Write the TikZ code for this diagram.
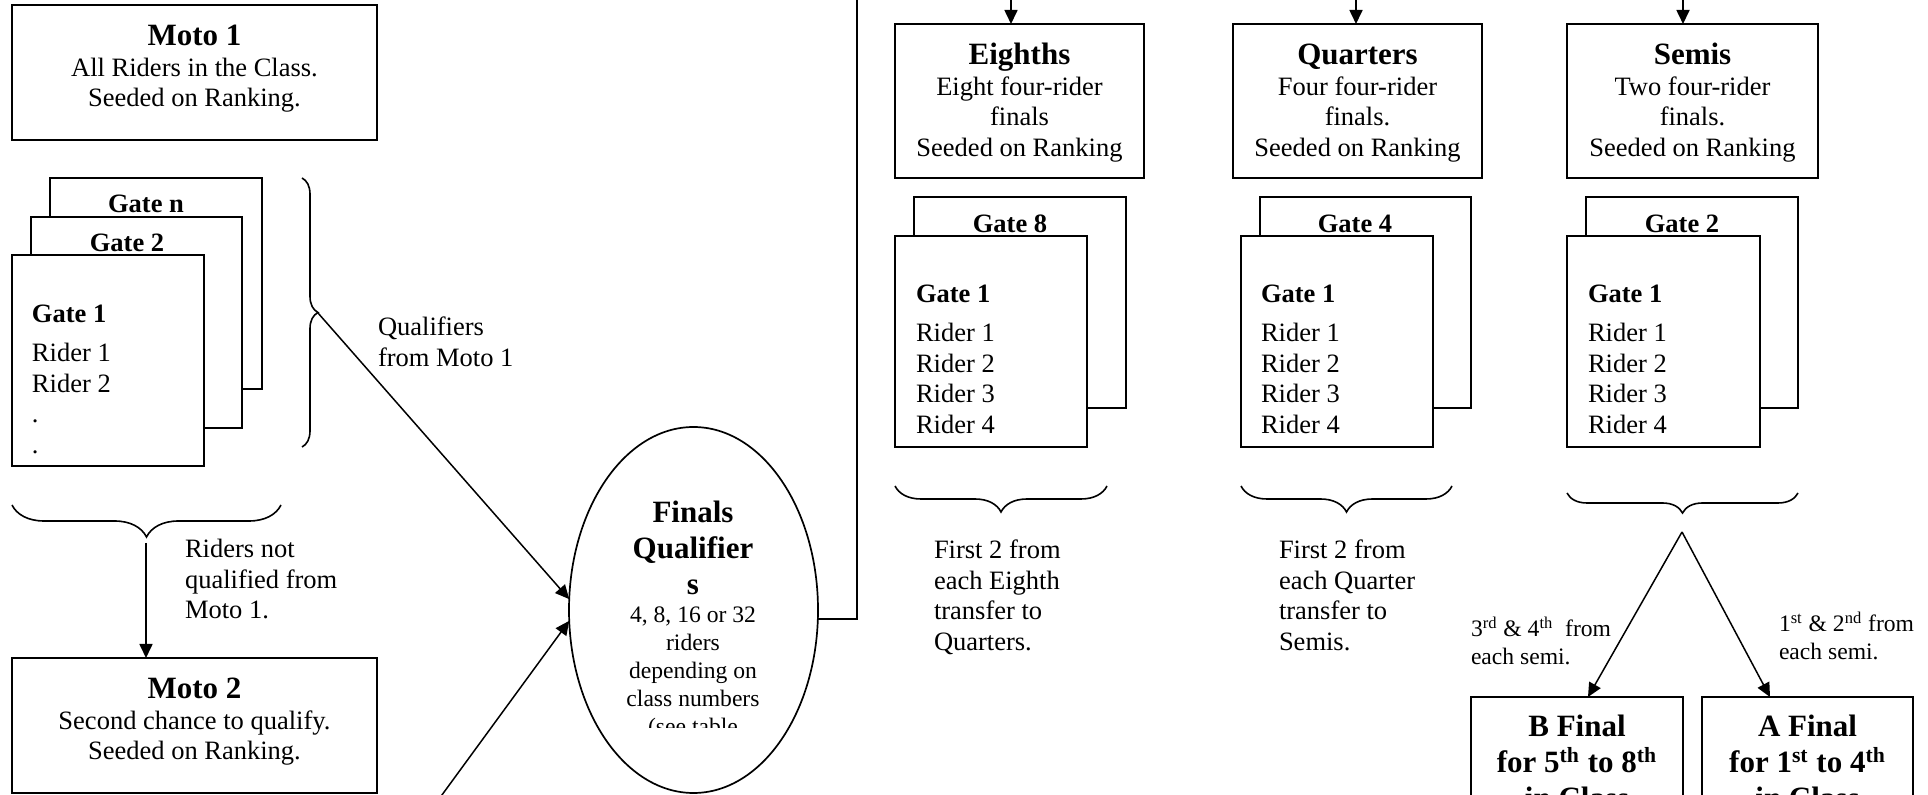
\documentclass[tikz,border=0pt]{standalone}
\usepackage{fontspec}
\setmainfont{Liberation Serif}
\usetikzlibrary{shapes.geometric,decorations.pathreplacing,arrows.meta,calc}
\newcommand\ttl{\fontsize{15.5}{18}\selectfont\bfseries}
\newcommand\bdy{\fontsize{13.25}{15.25}\selectfont}
\newcommand\sml{\fontsize{11.8}{14}\selectfont}
\newcommand\cblk[1]{\vtop{\halign{\hfil##\hfil\cr#1\crcr}}}
\newcommand\lblk[1]{\vtop{\halign{##\hfil\cr#1\crcr}}}
\begin{document}
\begin{tikzpicture}[x=0.5pt,y=-0.5pt,
 box/.style={draw, line width=1pt, fill=white, rectangle, inner sep=0pt, outer sep=0pt, anchor=north west},
 txt/.style={inner sep=0pt, outer sep=0pt},
 arr/.style={line width=0.75pt, -{Triangle[length=7pt,width=6.5pt]}},
 brc/.style={line width=0.8pt, decorate, decoration={brace, amplitude=#1}},
 lne/.style={line width=0.85pt}]
\useasboundingbox (0,0) rectangle (1928,795);
\fill[white] (0,0) rectangle (1928,795);
\clip (0,0) rectangle (1928,795);

% ---------- left column ----------
\node[box, minimum width=182.5pt, minimum height=67.5pt] (moto1) at (12,5) {};
\node[txt, anchor=base] (moto1t) at (194.5,46) {\bdy\cblk{{\ttl Moto 1}\cr All Riders in the Class.\cr Seeded on Ranking.}};

\node[box, minimum width=106pt, minimum height=105.5pt] (gn) at (50,178) {};
\node[txt, anchor=base] (gnt) at (146,213) {\bdy\bfseries Gate n};
\node[box, minimum width=105.5pt, minimum height=105.5pt] (g2l) at (31,217) {};
\node[txt, anchor=base] (g2lt) at (127,252) {\bdy\bfseries Gate 2};
\node[box, minimum width=96pt, minimum height=105.5pt] (g1l) at (12,255) {};
\node[txt, anchor=base west] (g1lt) at (32,323) {\bdy\lblk{{\bfseries Gate 1}\cr\noalign{\vskip4.25pt}Rider 1\cr Rider 2\cr .\cr .}};

\draw[brc=8pt] (302,178) -- (302,447) coordinate[pos=0.5] (bmid);
\coordinate (b1tip) at (318,313);
\node[txt, anchor=base west] (q1t) at (378,336) {\bdy\lblk{Qualifiers\cr from Moto 1}};

\draw[brc=16pt] (281,505) -- (12,505);
\coordinate (b2tip) at (146,543);
\node[txt, anchor=base west] (rnq) at (185,558) {\bdy\lblk{Riders not\cr qualified from\cr Moto 1.}};

\node[box, minimum width=182.5pt, minimum height=67.5pt] (moto2) at (12,658) {};
\node[txt, anchor=base] (moto2t) at (194.5,699) {\bdy\cblk{{\ttl Moto 2}\cr Second chance to qualify.\cr Seeded on Ranking.}};

\draw[arr, lne] (b2tip) -- (b2tip |- moto2.north);

% ---------- finals qualifiers ----------
\node[draw, ellipse, line width=0.85pt, minimum width=124.5pt, minimum height=183pt, inner sep=0pt, outer sep=0pt] (fq) at (693.5,610) {};
\node[txt, anchor=base] (fqt) at (693,523) {\ttl\cblk{Finals\cr Qualifier\cr s}};
\begin{scope}
\clip (560,400) rectangle (830,728);
\node[txt, anchor=base] (fqs) at (693,623) {\sml\cblk{4, 8, 16 or 32\cr riders\cr depending on\cr class numbers\cr (see table}};
\end{scope}

\draw[arr] (b1tip) -- (fq.175);
\coordinate (m2src) at (420,825);
\draw[arr] (m2src) -- (fq.185);
\coordinate (topc) at (857,-20);
\draw[lne] (fq.-4.5) -| (topc);

% ---------- eighths ----------
\coordinate (te) at (1011,-20);
\node[box, minimum width=124.5pt, minimum height=77pt] (eighths) at (895,24) {};
\node[txt, anchor=base] (eighthst) at (1019.5,65) {\bdy\cblk{{\ttl Eighths}\cr Eight four-rider\cr finals\cr Seeded on Ranking}};
\draw[arr, lne] (te) -- (te |- eighths.north);
\node[box, minimum width=106pt, minimum height=105.5pt] (g8) at (914,197) {};
\node[txt, anchor=base] (g8t) at (1010,233) {\bdy\bfseries Gate 8};
\node[box, minimum width=96pt, minimum height=105.5pt] (g1e) at (895,236) {};
\node[txt, anchor=base west] (g1et) at (916,303) {\bdy\lblk{{\bfseries Gate 1}\cr\noalign{\vskip4.25pt}Rider 1\cr Rider 2\cr Rider 3\cr Rider 4}};
\draw[brc=13pt] (1107,486) -- (895,486);
\node[txt, anchor=base west] (fe) at (934,559) {\bdy\lblk{First 2 from\cr each Eighth\cr transfer to\cr Quarters.}};

% ---------- quarters ----------
\coordinate (tq) at (1356,-20);
\node[box, minimum width=124.5pt, minimum height=77pt] (quarters) at (1233,24) {};
\node[txt, anchor=base] (quarterst) at (1357.5,65) {\bdy\cblk{{\ttl Quarters}\cr Four four-rider\cr finals.\cr Seeded on Ranking}};
\draw[arr, lne] (tq) -- (tq |- quarters.north);
\node[box, minimum width=105.5pt, minimum height=105.5pt] (g4) at (1260,197) {};
\node[txt, anchor=base] (g4t) at (1355,233) {\bdy\bfseries Gate 4};
\node[box, minimum width=96pt, minimum height=105.5pt] (g1q) at (1241,236) {};
\node[txt, anchor=base west] (g1qt) at (1261,303) {\bdy\lblk{{\bfseries Gate 1}\cr\noalign{\vskip4.25pt}Rider 1\cr Rider 2\cr Rider 3\cr Rider 4}};
\draw[brc=13pt] (1452,486) -- (1241,486);
\node[txt, anchor=base west] (fqq) at (1279,559) {\bdy\lblk{First 2 from\cr each Quarter\cr transfer to\cr Semis.}};

% ---------- semis ----------
\coordinate (ts) at (1683,-20);
\node[box, minimum width=125.5pt, minimum height=77pt] (semis) at (1567,24) {};
\node[txt, anchor=base] (semist) at (1692.5,65) {\bdy\cblk{{\ttl Semis}\cr Two four-rider\cr finals.\cr Seeded on Ranking}};
\draw[arr, lne] (ts) -- (ts |- semis.north);
\node[box, minimum width=106pt, minimum height=105.5pt] (g2s) at (1586,197) {};
\node[txt, anchor=base] (g2st) at (1682,233) {\bdy\bfseries Gate 2};
\node[box, minimum width=96.5pt, minimum height=105.5pt] (g1s) at (1567,236) {};
\node[txt, anchor=base west] (g1st) at (1588,303) {\bdy\lblk{{\bfseries Gate 1}\cr\noalign{\vskip4.25pt}Rider 1\cr Rider 2\cr Rider 3\cr Rider 4}};
\draw[brc=10pt] (1798,493) -- (1567,493);
\coordinate (apex) at (1682,532);

% ---------- finals ----------
\node[box, minimum width=106pt, minimum height=80pt] (bfinal) at (1471,697) {};
\node[txt, anchor=base] (bfinalt) at (1577,737) {\ttl\cblk{B Final\cr for 5\textsuperscript{th} to 8\textsuperscript{th}\cr in Class}};
\node[box, minimum width=105.5pt, minimum height=80pt] (afinal) at (1702,697) {};
\node[txt, anchor=base] (afinalt) at (1807.5,737) {\ttl\cblk{A Final\cr for 1\textsuperscript{st} to 4\textsuperscript{th}\cr in Class}};

\draw[arr] (apex) -- ($(bfinal.north west)+(117,0)$);
\draw[arr] (apex) -- ($(afinal.north west)+(68,0)$);
\node[txt, anchor=base west] (l34) at (1471,637) {\sml\lblk{3\textsuperscript{rd} \& 4\textsuperscript{th}\ \ from\cr each semi.}};
\node[txt, anchor=base west] (l12) at (1779,632) {\sml\lblk{1\textsuperscript{st} \& 2\textsuperscript{nd} from\cr each semi.}};
\end{tikzpicture}
\end{document}
